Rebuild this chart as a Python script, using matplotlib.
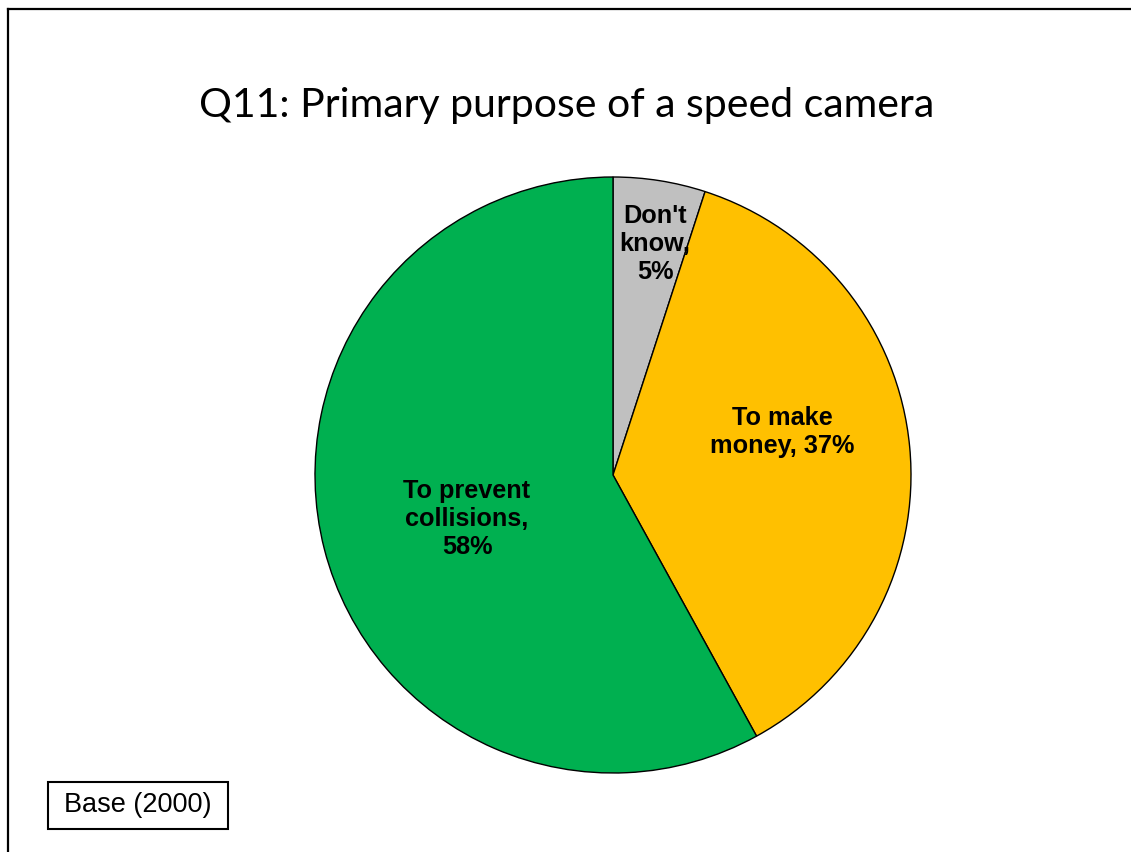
import matplotlib
matplotlib.use("Agg")
import matplotlib.pyplot as plt
from matplotlib.patches import Rectangle
from matplotlib.lines import Line2D

categories = ["Don't know", "To make money", "To prevent collisions"]
values = [5, 37, 58]
label_texts = ["Don't\nknow,\n5%", "To make\nmoney, 37%", "To prevent\ncollisions,\n58%"]
colors = ["#C0C0C0", "#FFC000", "#00B050"]
title = "Q11: Primary purpose of a speed camera"
base_text = "Base (2000)"

W, H = 1131, 852
fig = plt.figure(figsize=(W / 100, H / 100), dpi=100)
ax = fig.add_axes([0, 0, 1, 1])

cx, cy, r = 613, H - 475, 298
wedges, _ = ax.pie(values, colors=colors, startangle=90, counterclock=False,
                   center=(cx, cy), radius=r,
                   wedgeprops=dict(edgecolor="black", linewidth=1.0))
ax.set_xlim(0, W)
ax.set_ylim(0, H)
ax.set_aspect("equal")
ax.axis("off")

label_pos = [(655, 244), (782, 432), (467, 519)]
for txt, (x, y) in zip(label_texts, label_pos):
    ax.text(x, H - y, txt, ha="center", va="center", fontsize=18.2,
            fontweight="bold", family="Liberation Sans", linespacing=1.2)

ax.text(567, H - 106, title, ha="center", va="center", fontsize=29.5,
        family="Lato")

# frame lines (left and top)
ax.add_line(Line2D([8, 8], [0, H - 9], color="black", linewidth=1.6))
ax.add_line(Line2D([8, W], [H - 9, H - 9], color="black", linewidth=1.6))

# base box
ax.add_patch(Rectangle((48, H - 829), 180, 47, facecolor="white",
                       edgecolor="black", linewidth=1.5))
ax.text(138, H - 805.5, base_text, ha="center", va="center", fontsize=19.5,
        family="Liberation Sans")

fig.savefig("out.png", dpi=100)
